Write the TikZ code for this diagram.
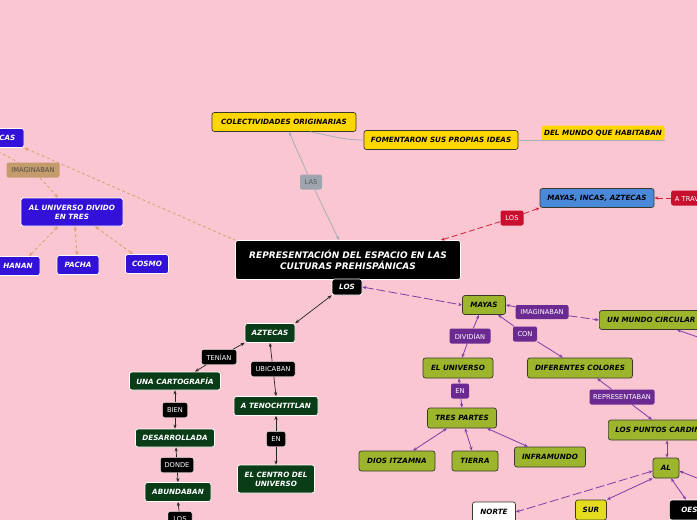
\documentclass[tikz,border=0pt]{standalone}
\usepackage{fontspec}
\setmainfont{DejaVu Sans}
\usetikzlibrary{arrows.meta,calc}
\definecolor{bgpink}{HTML}{F9C6D2}
\definecolor{blueV}{HTML}{3311D9}
\definecolor{tanlab}{HTML}{C39B6C}
\definecolor{tanline}{HTML}{D9A06A}
\definecolor{ygold}{HTML}{FFD700}
\definecolor{graylab}{HTML}{9EA5AE}
\definecolor{grayline}{HTML}{A8AEB6}
\definecolor{miablue}{HTML}{4A88D9}
\definecolor{redlab}{HTML}{C8102E}
\definecolor{redline}{HTML}{D0203A}
\definecolor{dgreen}{HTML}{0A3D17}
\definecolor{olive}{HTML}{9CB52C}
\definecolor{purplab}{HTML}{6B2A91}
\definecolor{purpline}{HTML}{7B3FA6}
\definecolor{suryel}{HTML}{E6DC1E}
\definecolor{bordk}{HTML}{3A3A2A}
\tikzset{
  tip/.tip={Stealth[length=4pt,width=3.2pt]},
  topic/.style={rounded corners=2.5pt, align=center, inner sep=1pt,
    font=\fontsize{7.2}{9}\selectfont\bfseries\itshape, line width=0.7pt},
  lab/.style={rounded corners=2pt, align=center, inner sep=1pt,
    font=\fontsize{6.7}{7.5}\selectfont, minimum height=15pt},
  bluen/.style={topic, fill=blueV, draw=white, text=white},
  yelln/.style={topic, fill=ygold, draw=bordk, text=black},
  greenn/.style={topic, fill=dgreen, draw=white, text=white},
  blackn/.style={topic, fill=black, draw=white, text=white},
  oliven/.style={topic, fill=olive, draw=bordk, text=black},
  tanl/.style={lab, fill=tanlab, text=black!70},
  grayl/.style={lab, fill=graylab, text=black!65},
  redl/.style={lab, fill=redlab, text=white},
  blackl/.style={lab, fill=black, draw=white, line width=0.4pt, text=white},
  purpl/.style={lab, fill=purplab, text=white},
  tanedge/.style={draw=tanline, line width=0.8pt, dash pattern=on 3pt off 2.5pt},
  redge/.style={draw=redline, line width=0.8pt, dash pattern=on 6pt off 3pt},
  gedge/.style={draw=grayline, line width=0.8pt},
  kedge/.style={draw=black!85, line width=0.7pt},
  pedge/.style={draw=purpline, line width=0.8pt},
  pdash/.style={draw=purpline, line width=0.8pt, dash pattern=on 9pt off 3pt},
}
\begin{document}
\begin{tikzpicture}[x=1pt,y=-1pt]
\useasboundingbox (0,0) rectangle (697,520);
\fill[bgpink] (0,0) rectangle (697,520);
\clip (0,0) rectangle (697,520);

% ---- nodes ----
\node[bluen, minimum width=42pt, minimum height=19pt] (incas) at (3,138) {INCAS};
\node[tanl, minimum width=53pt] (img1) at (33,170) {IMAGINABAN};
\node[bluen, minimum width=102pt, minimum height=28pt] (alu) at (72,212) {AL UNIVERSO DIVIDO\\EN TRES};
\node[bluen, minimum width=44pt, minimum height=19pt] (hanan) at (18,266) {HANAN};
\node[bluen, minimum width=42pt, minimum height=19pt] (pacha) at (78,265) {PACHA};
\node[bluen, minimum width=43pt, minimum height=19pt] (cosmo) at (147,264) {COSMO};

\node[yelln, minimum width=144pt, minimum height=19pt] (col) at (284,122) {COLECTIVIDADES ORIGINARIAS};
\node[yelln, minimum width=154pt, minimum height=19pt] (fom) at (441,140) {FOMENTARON SUS PROPIAS IDEAS};
\node[topic, fill=ygold, text=black, minimum width=123pt, minimum height=15pt] (dm) at (603,133) {DEL MUNDO QUE HABITABAN};
\node[grayl, minimum width=22pt] (las) at (311,182) {LAS};

\node[topic, fill=black, draw=white, text=white, font=\fontsize{9}{11.5}\selectfont\bfseries\itshape,
  minimum width=225pt, minimum height=39pt] (main) at (348,260) {REPRESENTACIÓN DEL ESPACIO EN LAS\\CULTURAS PREHISPÁNICAS};

\node[topic, fill=miablue, draw=bordk, text=black, minimum width=114pt, minimum height=19pt] (mia) at (597,198) {MAYAS, INCAS, AZTECAS};
\node[redl, minimum width=40pt, anchor=west] (atr) at (671,198) {A TRAVÉS};
\node[redl, minimum width=23pt] (los1) at (512,218) {LOS};

\node[blackn, minimum width=30pt, minimum height=16pt] (los2) at (347,287) {LOS};
\node[greenn, minimum width=50pt, minimum height=19pt] (azt) at (270,333) {AZTECAS};
\node[blackl, minimum width=35pt] (ten) at (219,357) {TENÍAN};
\node[blackl, minimum width=44pt] (ubi) at (273,369) {UBICABAN};
\node[greenn, minimum width=91pt, minimum height=18pt] (una) at (175,381) {UNA CARTOGRAFÍA};
\node[blackl, minimum width=25pt] (bien) at (175,410) {BIEN};
\node[greenn, minimum width=79pt, minimum height=18pt] (des) at (175,438) {DESARROLLADA};
\node[blackl, minimum width=33pt] (don) at (177,465) {DONDE};
\node[greenn, minimum width=66pt, minimum height=19pt] (abu) at (178,492) {ABUNDABAN};
\node[blackl, minimum width=24pt] (los3) at (180,519) {LOS};
\node[greenn, minimum width=84pt, minimum height=19pt] (ateno) at (276,406) {A TENOCHTITLAN};
\node[blackl, minimum width=19pt] (en1) at (276,439) {EN};
\node[greenn, minimum width=77pt, minimum height=28pt] (ecu) at (276,479) {EL CENTRO DEL\\UNIVERSO};

\node[oliven, minimum width=43pt, minimum height=19pt] (mayas) at (484,305) {MAYAS};
\node[purpl, minimum width=53pt, minimum height=14pt] (img2) at (542,312) {IMAGINABAN};
\node[oliven, minimum width=104pt, minimum height=19pt, anchor=west] (umc) at (599,320) {UN MUNDO CIRCULAR};
\node[purpl, minimum width=41pt] (div) at (470,336) {DIVIDÍAN};
\node[purpl, minimum width=24pt] (con) at (525,334) {CON};
\node[oliven, minimum width=70pt, minimum height=20pt] (eu) at (458,368) {EL UNIVERSO};
\node[oliven, minimum width=105pt, minimum height=20pt] (dc) at (580,368) {DIFERENTES COLORES};
\node[purpl, minimum width=18pt] (en2) at (460,391) {EN};
\node[oliven, minimum width=69pt, minimum height=20pt] (tp) at (462,418) {TRES PARTES};
\node[purpl, minimum width=65pt] (rep) at (622,397) {REPRESENTABAN};
\node[oliven, minimum height=20pt, anchor=west, inner xsep=7pt] (lpc) at (608,430) {LOS PUNTOS CARDINALES};
\node[oliven, minimum width=76pt, minimum height=20pt] (dios) at (397,461) {DIOS ITZAMNA};
\node[oliven, minimum width=46pt, minimum height=20pt] (tie) at (475,461) {TIERRA};
\node[oliven, minimum width=71pt, minimum height=20pt] (inf) at (550,457) {INFRAMUNDO};
\node[oliven, minimum width=26pt, minimum height=20pt] (al) at (666,468) {AL};
\node[topic, fill=white, draw=bordk, text=black, minimum width=43pt, minimum height=20pt] (norte) at (494,512) {NORTE};
\node[topic, fill=suryel, draw=bordk, text=black, minimum width=31pt, minimum height=20pt] (sur) at (591,510) {SUR};
\node[blackn, minimum width=50pt, minimum height=20pt, anchor=west] (oeste) at (669,510) {OESTE};

\coordinate (offr1) at (712,342);
\coordinate (offr2) at (712,484);

% ---- connectors ----
\begin{scope}[tanedge]
\draw[tip-] (incas.south) ++(-12,0) coordinate (incb) -- (img1);
\draw[-tip] (img1) -- (alu.north -| 58,0);
\draw[tip-] (incas.south east) -- (main.north west);
\draw[tip-tip] (alu.south -| 58,0) -- (hanan.north -| 29,0);
\draw[tip-tip] (alu.south -| 75,0) -- (pacha.north -| 77,0);
\draw[tip-tip] (alu.south -| 95,0) -- (cosmo.north -| 133,0);
\end{scope}

\draw[gedge, tip-] (col.south -| 289,0) -- (las);
\draw[gedge, -tip] (las) -- (main.north -| 339,0);
\draw[gedge] (col.south -| 310,0) to[out=-10,in=180] (fom.west);
\draw[gedge] (fom.east) -- (fom.east -| dm.east);

\draw[redge, tip-] (main.north east) ++(-20,0) -- (los1);
\draw[redge, -tip] (los1) -- (mia.south west);
\draw[redge, tip-] (mia.east) -- (atr.west);

\draw[kedge, tip-tip] (los2.south west) -- (azt.north east);
\draw[kedge, tip-] (azt.south west) -- (ten);
\draw[kedge, -tip] (ten) -- (una.north -| 195,0);
\draw[kedge, tip-] (azt.south) -- (ubi);
\draw[kedge, -tip] (ubi) -- (ateno.north);
\draw[kedge, tip-] (una.south) -- (bien);
\draw[kedge, -tip] (bien) -- (des.north);
\draw[kedge, tip-] (des.south -| 176,0) -- (don);
\draw[kedge, -tip] (don) -- (abu.north);
\draw[kedge, tip-] (abu.south) -- (los3);
\draw[kedge, tip-] (ateno.south) -- (en1);
\draw[kedge, -tip] (en1) -- (ecu.north);

\draw[pdash, tip-tip] (los2.east) -- (mayas.west);
\draw[pedge, tip-] (mayas.east) -- (img2);
\draw[pdash, -tip] (img2) -- (umc.west);
\draw[pedge, tip-] (umc.south -| 677,0) -- (offr1);
\draw[pedge, tip-] (mayas.south -| 479,0) -- (div);
\draw[pedge, -tip] (div) -- (eu.north -| 462,0);
\draw[pedge, tip-] (mayas.south -| 498,0) -- (con);
\draw[pedge, -tip] (con) -- (dc.north -| 563,0);
\draw[pedge, tip-] (eu.south -| 459,0) -- (en2);
\draw[pedge, -tip] (en2) -- (tp.north -| 462,0);
\draw[pedge, tip-] (dc.south -| 597,0) -- (rep);
\draw[pedge, -tip] (rep) -- (lpc.north -| 652,0);
\draw[pedge, tip-tip] (tp.south -| 447,0) -- (dios.north -| 413,0);
\draw[pedge, tip-tip] (tp.south -| 465,0) -- (tie.north -| 472,0);
\draw[pedge, tip-tip] (tp.south -| 487,0) -- (inf.north -| 528,0);
\draw[pedge, tip-tip] (lpc.south -| 667,0) -- (al.north -| 667,0);
\draw[pdash, tip-tip] (al.west) ++(0,3) -- (norte.east);
\draw[pedge, tip-tip] (al.south west) -- (sur.north east);
\draw[pedge, tip-tip] (al.south -| 671,0) -- (oeste.north -| 686,0);
\draw[pedge, tip-] (al.east) ++(0,3) -- (offr2);
\end{tikzpicture}
\end{document}
